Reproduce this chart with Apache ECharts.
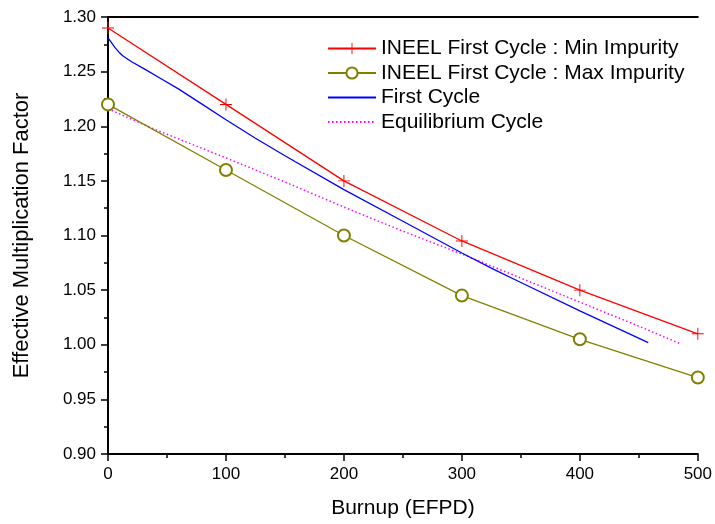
<!DOCTYPE html>
<html>
<head>
<meta charset="utf-8">
<script src="https://cdn.jsdelivr.net/npm/echarts@6/dist/echarts.min.js"></script>
<style>
html,body{margin:0;padding:0;background:#fff;}
#c{width:715px;height:524px;}
</style>
</head>
<body>
<div id="c"></div>
<script>
// Data
const days = [0, 100, 200, 300, 400, 500];
const minImpurity = [1.29, 1.22, 1.15, 1.095, 1.05, 1.01];
const maxImpurity = [1.22, 1.16, 1.10, 1.045, 1.005, 0.97];
const firstCycleDays = [0, 2, 6, 10, 13, 20, 30, 45, 60, 80, 100, 125, 150, 200, 250, 300, 327, 350, 400, 458];
const firstCycleK = [1.281, 1.278, 1.272, 1.267, 1.264, 1.259, 1.253, 1.2435, 1.234, 1.220, 1.206, 1.189, 1.173, 1.142, 1.113, 1.084, 1.069, 1.057, 1.031, 1.002];
const eqDays = [0, 40, 100, 150, 200, 250, 300, 350, 400, 450, 485];
const eqK = [1.216, 1.197, 1.171, 1.149, 1.126, 1.104, 1.083, 1.061, 1.039, 1.017, 1.001];
const seriesNames = [
  'INEEL First Cycle : Min Impurity',
  'INEEL First Cycle : Max Impurity',
  'First Cycle',
  'Equilibrium Cycle'
];

const pair = (xs, ys) => xs.map((x, i) => [x, ys[i]]);
const FONT = "'Liberation Sans', Arial, sans-serif";
const plusPath = 'path://M4.6,0H5.4V4.6H10V5.4H5.4V10H4.6V5.4H0V4.6H4.6Z';

const chart = echarts.init(document.getElementById('c'), null, {renderer: 'canvas'});
const axisLine = {show: true, lineStyle: {color: '#000', width: 2}};
chart.setOption({
  animation: false,
  backgroundColor: '#fff',
  grid: {left: 108, right: 14, top: 17, bottom: 68, containLabel: false},
  legend: {
    orient: 'vertical',
    left: 322,
    top: 33,
    itemWidth: 48,
    itemHeight: 14,
    itemGap: 3.5,
    textStyle: {fontFamily: FONT, fontSize: 21, color: '#000'},
    data: [
      {name: seriesNames[0]},
      {name: seriesNames[1]},
      {name: seriesNames[2], itemStyle: {opacity: 0}},
      {name: seriesNames[3], itemStyle: {opacity: 0}}
    ]
  },
  xAxis: [{
    type: 'value', min: 0, max: 500, interval: 100,
    name: 'Burnup (EFPD)', nameLocation: 'middle', nameGap: 44,
    nameTextStyle: {fontFamily: FONT, fontSize: 21, color: '#000'},
    axisLine: axisLine,
    axisTick: {show: true, inside: false, length: 7, lineStyle: {color: '#000', width: 1.5}},
    minorTick: {show: true, splitNumber: 2, length: 4, lineStyle: {color: '#000', width: 1.5}},
    axisLabel: {fontFamily: FONT, fontSize: 17, color: '#000', margin: 12},
    splitLine: {show: false}
  }, {
    type: 'value', min: 0, max: 500, interval: 100, position: 'top',
    axisLine: axisLine, axisTick: {show: false}, axisLabel: {show: false}, splitLine: {show: false}
  }],
  yAxis: [{
    type: 'value', min: 0.9, max: 1.3, interval: 0.05,
    name: 'Effective Multiplication Factor', nameLocation: 'middle', nameGap: 75,
    nameTextStyle: {fontFamily: FONT, fontSize: 22, color: '#000'},
    axisLine: axisLine,
    axisTick: {show: true, inside: false, length: 7, lineStyle: {color: '#000', width: 1.5}},
    minorTick: {show: true, splitNumber: 2, length: 4, lineStyle: {color: '#000', width: 1.5}},
    axisLabel: {fontFamily: FONT, fontSize: 17, color: '#000', margin: 12,
      formatter: v => v.toFixed(2)},
    splitLine: {show: false}
  }, {
    type: 'value', min: 0.9, max: 1.3, interval: 0.05, position: 'right',
    axisLine: axisLine,
    axisTick: {show: true, inside: true, length: 6, lineStyle: {color: '#000', width: 1.5}},
    minorTick: {show: true, splitNumber: 2, length: 4, lineStyle: {color: '#000', width: 1.5}},
    axisLabel: {show: false}, splitLine: {show: false}
  }],
  series: [{
    name: seriesNames[0], type: 'line', data: pair(days, minImpurity),
    symbol: plusPath, symbolSize: 12, showAllSymbol: true,
    lineStyle: {color: '#ff0000', width: 1.3},
    itemStyle: {color: '#ff0000'},
    clip: false, z: 4
  }, {
    name: seriesNames[1], type: 'line', data: pair(days, maxImpurity),
    symbol: 'emptyCircle', symbolSize: 12,
    lineStyle: {color: '#808000', width: 1.3},
    itemStyle: {color: '#808000', borderWidth: 1.3},
    clip: false, z: 3
  }, {
    name: seriesNames[2], type: 'line', data: pair(firstCycleDays, firstCycleK),
    symbol: 'circle', showSymbol: false,
    lineStyle: {color: '#0000ff', width: 1.3},
    itemStyle: {color: '#0000ff'}, z: 2
  }, {
    name: seriesNames[3], type: 'line', data: pair(eqDays, eqK),
    symbol: 'circle', showSymbol: false,
    lineStyle: {color: '#ff00ff', width: 1.5, type: [1.5, 2.5]},
    itemStyle: {color: '#ff00ff'}, z: 1
  }]
});
</script>
</body>
</html>
